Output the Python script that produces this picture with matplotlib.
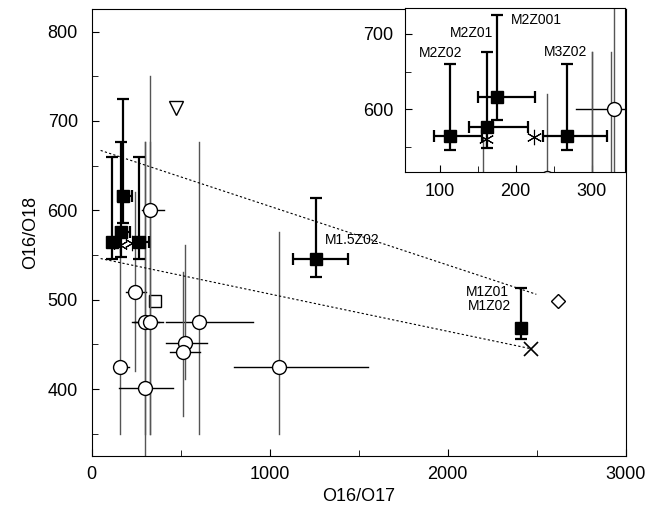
import matplotlib
matplotlib.use('Agg')
import matplotlib.pyplot as plt
from matplotlib.ticker import MultipleLocator

plt.rcParams['font.family'] = ['Liberation Sans', 'DejaVu Sans']

# model results (filled squares)
mod_names = ['M2Z02', 'M2Z01', 'M2Z001', 'M3Z02', 'M1.5Z02', 'M1Z01']
mod_x = [114, 162, 176, 268, 1262, 2412]
mod_y = [565, 576, 616, 565, 545, 468]
mod_x_lo = [93, 139, 150, 236, 1131, 2412]
mod_x_hi = [156, 216, 226, 320, 1442, 2412]
mod_y_lo = [546, 548, 586, 546, 525, 456]
mod_y_hi = [660, 676, 725, 660, 614, 513]

# observations (open circles)
obs_x = [157, 301, 241, 330, 301, 325, 601, 524, 513, 1052]
obs_y = [425, 401, 509, 600, 475, 475, 475, 451, 441, 425]
obs_x_lo = [129, 152, 191, 280, 226, 240, 420, 419, 440, 798]
obs_x_hi = [210, 457, 307, 404, 380, 400, 906, 648, 607, 1555]
obs_y_lo = [350, 300, 420, 350, 350, 350, 350, 411, 370, 350]
obs_y_hi = [562, 676, 620, 750, 676, 676, 676, 561, 531, 576]

# other single points
star_x = [161, 224]
star_y = [561, 563]
tri_x, tri_y = [472], [715]
osq_x, osq_y = [358], [499]
dia_x, dia_y = [2620], [499]
cross_x, cross_y = [2470], [445]

# dotted trend lines
upper_x = [50, 2498]
upper_y = [667, 506]
lower_x = [50, 2470]
lower_y = [546, 445]


def draw(ax):
    for i in range(len(obs_x)):
        ax.plot([obs_x[i], obs_x[i]], [obs_y_lo[i], obs_y_hi[i]], color='#555555', lw=1, zorder=2)
        ax.plot([obs_x_lo[i], obs_x_hi[i]], [obs_y[i], obs_y[i]], color='black', lw=1, zorder=2)
    ax.plot(obs_x, obs_y, 'o', ms=10, mfc='white', mec='black', mew=1, zorder=4)
    xerr = [[m - lo for m, lo in zip(mod_x, mod_x_lo)], [hi - m for m, hi in zip(mod_x, mod_x_hi)]]
    yerr = [[m - lo for m, lo in zip(mod_y, mod_y_lo)], [hi - m for m, hi in zip(mod_y, mod_y_hi)]]
    ax.errorbar(mod_x, mod_y, xerr=xerr, yerr=yerr, fmt='s', ms=8.5, color='black',
                ecolor='black', elinewidth=1.6, capsize=4, capthick=1.6, zorder=5)
    ax.plot(star_x, star_y, marker=(6, 2, 0), ms=11, color='black', mew=0.8, ls='none', zorder=6)
    ax.plot(tri_x, tri_y, 'v', ms=10, mfc='white', mec='black', mew=1, zorder=4)
    ax.plot(osq_x, osq_y, 's', ms=9, mfc='white', mec='black', mew=1, zorder=1)
    ax.plot(dia_x, dia_y, 'D', ms=7, mfc='white', mec='black', mew=1, zorder=4)
    ax.plot(cross_x, cross_y, 'x', ms=10, color='black', mew=1.2, zorder=4)
    ax.tick_params(which='both', direction='in', labelsize=13)
    ax.tick_params(which='major', length=5)
    ax.tick_params(which='minor', length=4)


fig = plt.figure(figsize=(6.6, 5.13), dpi=100)
ax = fig.add_axes([0.139, 0.111, 0.809, 0.871])
ax.plot(upper_x, upper_y, color='black', lw=0.8, ls=(0, (2, 2)), zorder=3)
ax.plot(lower_x, lower_y, color='black', lw=0.8, ls=(0, (2, 2)), zorder=3)
draw(ax)
ax.set_xlim(0, 3000)
ax.set_ylim(325, 825)
ax.xaxis.set_major_locator(MultipleLocator(1000))
ax.xaxis.set_minor_locator(MultipleLocator(500))
ax.yaxis.set_major_locator(MultipleLocator(100))
ax.yaxis.set_minor_locator(MultipleLocator(50))
ax.tick_params(axis='x', pad=7)
ax.tick_params(axis='y', pad=10)
ax.set_xlabel('O16/O17', fontsize=13, labelpad=4)
ax.set_ylabel('O16/O18', fontsize=13, labelpad=6)

ax.text(1310, 567, 'M1.5Z02', fontsize=10, ha='left', va='center')
ax.text(2345, 509, 'M1Z01', fontsize=10, ha='right', va='center')
ax.text(2355, 493, 'M1Z02', fontsize=10, ha='right', va='center')

ins = fig.add_axes([0.613, 0.665, 0.334, 0.319])
draw(ins)
ins.set_xlim(54, 344)
ins.set_ylim(517, 734)
ins.xaxis.set_major_locator(MultipleLocator(100))
ins.xaxis.set_minor_locator(MultipleLocator(50))
ins.yaxis.set_major_locator(MultipleLocator(100))
ins.yaxis.set_minor_locator(MultipleLocator(50))
ins.tick_params(axis='x', pad=8)
ins.tick_params(axis='y', pad=8)
ins.text(102, 674, 'M2Z02', fontsize=10, ha='center', va='center')
ins.text(142, 701, 'M2Z01', fontsize=10, ha='center', va='center')
ins.text(228, 719, 'M2Z001', fontsize=10, ha='center', va='center')
ins.text(266, 676, 'M3Z02', fontsize=10, ha='center', va='center')

fig.savefig('out.png', dpi=100)
